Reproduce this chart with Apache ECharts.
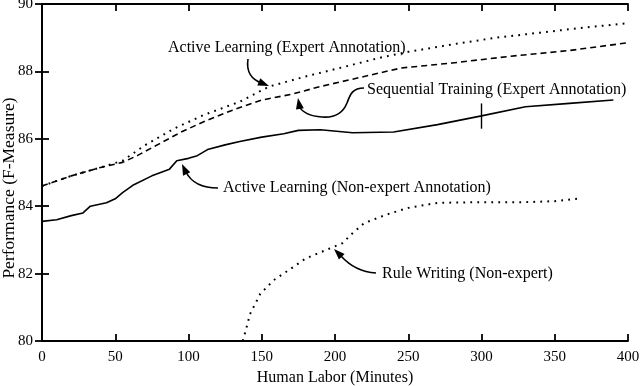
<!DOCTYPE html>
<html>
<head>
<meta charset="utf-8">
<script src="https://cdn.jsdelivr.net/npm/echarts@6/dist/echarts.min.js"></script>
<style>
  html, body { margin: 0; padding: 0; background: #fff; }
  #main { width: 640px; height: 386px; }
</style>
</head>
<body>
<div id="main"></div>
<script type="text/javascript">
// values: [minutes, F-measure]
var activeExpert = [
  [0, 84.6], [20, 84.9], [40, 85.15], [55, 85.35], [70, 85.8], [90, 86.3],
  [110, 86.7], [135, 87.1], [155, 87.55], [180, 87.85], [205, 88.12],
  [230, 88.4], [250, 88.58], [280, 88.8], [310, 89.0], [340, 89.15],
  [370, 89.3], [400, 89.43]
];
var sequentialExpert = [
  [0, 84.6], [20, 84.9], [40, 85.15], [55, 85.3], [65, 85.5], [80, 85.85],
  [95, 86.2], [110, 86.5], [130, 86.85], [150, 87.15], [170, 87.32],
  [190, 87.55], [210, 87.75], [230, 87.95], [245, 88.1], [280, 88.25],
  [320, 88.45], [360, 88.62], [400, 88.85]
];
var activeNonExpert = [
  [0, 83.55], [10, 83.6], [20, 83.72], [28, 83.8], [33, 84.0], [44, 84.1],
  [50, 84.22], [55, 84.4], [62, 84.62], [75, 84.9], [87, 85.1], [92, 85.35],
  [100, 85.42], [106, 85.5], [113, 85.68], [125, 85.82], [135, 85.92],
  [150, 86.05], [165, 86.15], [175, 86.25], [190, 86.27], [212, 86.18],
  [240, 86.2], [270, 86.42], [300, 86.68], [330, 86.95], [360, 87.05],
  [390, 87.15]
];
var ruleWriting = [
  [137, 80.0], [139, 80.3], [142, 80.8], [149, 81.4], [158, 81.8],
  [170, 82.15], [180, 82.45], [195, 82.72], [205, 82.9], [212, 83.2],
  [220, 83.5], [235, 83.75], [250, 83.95], [270, 84.1], [300, 84.12],
  [330, 84.12], [350, 84.15], [367, 84.23]
];
// vertical bar drawn on the non-expert curve: [x, low, high]
var errBar = [300, 86.3, 87.05];

var seriesNames = [
  'Active Learning (Expert Annotation)',
  'Sequential Training (Expert Annotation)',
  'Active Learning (Non-expert Annotation)',
  'Rule Writing (Non-expert)'
];
var xTitle = 'Human Labor (Minutes)';
var yTitle = 'Performance (F-Measure)';

var serif = '"Liberation Serif", "DejaVu Serif", serif';
var black = '#000';

// small triangle arrow head, tip at (x, y), pointing along angle (deg)
function arrowHead(x, y, deg) {
  var a = deg * Math.PI / 180, len = 11, half = 4;
  var bx = x - Math.cos(a) * len, by = y - Math.sin(a) * len;
  var nx = -Math.sin(a) * half, ny = Math.cos(a) * half;
  return {
    type: 'polygon',
    shape: { points: [[x, y], [bx + nx, by + ny], [bx - nx, by - ny]] },
    style: { fill: black }
  };
}
// cubic bezier: p = [x1, y1, cpx1, cpy1, cpx2, cpy2, x2, y2]
function curve(p) {
  return {
    type: 'bezierCurve',
    shape: { x1: p[0], y1: p[1], cpx1: p[2], cpy1: p[3], cpx2: p[4], cpy2: p[5], x2: p[6], y2: p[7] },
    style: { fill: null, stroke: black, lineWidth: 1.6 }
  };
}
function note(text, x, y) {
  return {
    type: 'text',
    x: x, y: y,
    style: { text: text, font: '16px ' + serif, fill: black, verticalAlign: 'middle' }
  };
}

var axisStyle = { lineStyle: { color: black, width: 1.8 } };
var tickStyle = { inside: true, length: 7, lineStyle: { color: black, width: 1.8 } };
var labelStyle = { color: black, fontFamily: serif, fontSize: 15 };
var dotted = [1.8, 5.2];

var myChart = echarts.init(document.getElementById('main'));
var option = {
  backgroundColor: '#fff',
  animation: false,
  grid: { left: 42, right: 12, top: 4, bottom: 45, outerBoundsMode: 'none', containLabel: false },
  xAxis: [{
    type: 'value', min: 0, max: 400, interval: 50,
    name: xTitle, nameLocation: 'middle', nameGap: 28,
    nameTextStyle: { color: black, fontFamily: serif, fontSize: 16 },
    axisLine: axisStyle, axisTick: tickStyle,
    axisLabel: Object.assign({ margin: 9 }, labelStyle),
    splitLine: { show: false }
  }, {
    type: 'value', min: 0, max: 400, interval: 50, position: 'top',
    axisLine: axisStyle, axisTick: tickStyle,
    axisLabel: { show: false }, splitLine: { show: false }
  }],
  yAxis: [{
    type: 'value', min: 80, max: 90, interval: 2,
    axisLine: axisStyle, axisTick: tickStyle,
    axisLabel: Object.assign({ margin: 9 }, labelStyle),
    splitLine: { show: false }
  }, {
    type: 'value', min: 80, max: 90, interval: 2, position: 'right',
    axisLine: axisStyle, axisTick: tickStyle,
    axisLabel: { show: false }, splitLine: { show: false }
  }],
  series: [{
    name: seriesNames[0], type: 'line', data: activeExpert, showSymbol: false,
    lineStyle: { color: black, width: 2, type: dotted, cap: 'butt' }
  }, {
    name: seriesNames[1], type: 'line', data: sequentialExpert, showSymbol: false,
    lineStyle: { color: black, width: 1.6, type: [6, 4] }
  }, {
    name: seriesNames[2], type: 'line', data: activeNonExpert, showSymbol: false,
    lineStyle: { color: black, width: 1.6, type: 'solid' },
    markLine: {
      silent: true, symbol: 'none', label: { show: false },
      lineStyle: { color: black, width: 1.4, type: 'solid' },
      data: [[{ coord: [errBar[0], errBar[1]] }, { coord: [errBar[0], errBar[2]] }]]
    }
  }, {
    name: seriesNames[3], type: 'line', data: ruleWriting, showSymbol: false,
    lineStyle: { color: black, width: 2, type: dotted, cap: 'butt' }
  }],
  graphic: [
    {
      type: 'text', x: 9, y: 188, rotation: Math.PI / 2,
      style: { text: yTitle, font: '17.5px ' + serif, fill: black, align: 'center', verticalAlign: 'middle' }
    },
    note(seriesNames[0], 168, 48),
    curve([248, 59, 246, 72, 252, 80, 262, 83]),
    arrowHead(269, 86, 22),
    note(seriesNames[1], 367, 90),
    curve([364, 88, 352, 88, 350, 95, 347, 103]),
    curve([347, 103, 343, 113, 335, 118, 322, 117]),
    curve([322, 117, 308, 116, 302, 112, 299, 106]),
    arrowHead(298, 98, -100),
    note(seriesNames[2], 223, 188),
    curve([218, 188, 200, 188, 191, 182, 186, 172]),
    arrowHead(182, 164, -115),
    note(seriesNames[3], 382, 274),
    curve([376, 273, 360, 272, 350, 266, 341, 256]),
    arrowHead(334, 249, -135)
  ]
};
myChart.setOption(option);
</script>
</body>
</html>
